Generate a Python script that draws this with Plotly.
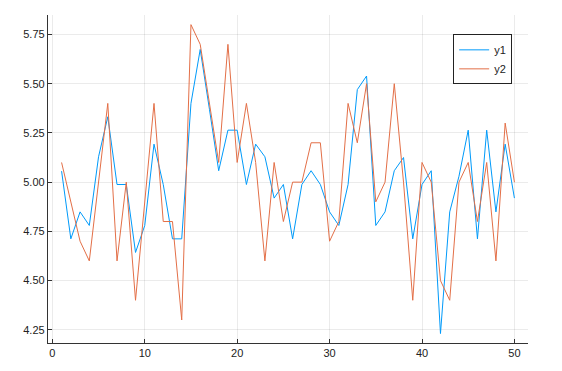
import plotly.graph_objects as go

x = list(range(1, 51))
y1 = [5.056, 4.712, 4.849, 4.78, 5.129, 5.332, 4.988, 4.988, 4.643, 4.78,
      5.193, 4.988, 4.712, 4.712, 5.40, 5.674, 5.37, 5.058, 5.264, 5.264,
      4.988, 5.193, 5.129, 4.919, 4.988, 4.712, 4.988, 5.058, 4.988, 4.849,
      4.78, 4.988, 5.47, 5.539, 4.78, 4.849, 5.058, 5.125, 4.712, 4.988,
      5.058, 4.231, 4.849, 5.03, 5.264, 4.712, 5.264, 4.849, 5.193, 4.919]
y2 = [5.1, 4.9, 4.7, 4.6, 5.0, 5.4, 4.6, 5.0, 4.4, 4.9,
      5.4, 4.8, 4.8, 4.3, 5.8, 5.7, 5.4, 5.1, 5.7, 5.1,
      5.4, 5.1, 4.6, 5.1, 4.8, 5.0, 5.0, 5.2, 5.2, 4.7,
      4.8, 5.4, 5.2, 5.5, 4.9, 5.0, 5.5, 5.0, 4.4, 5.1,
      5.0, 4.5, 4.4, 5.0, 5.1, 4.8, 5.1, 4.6, 5.3, 5.0]
names = ["y1", "y2"]
colors = ["#009AFA", "#E36F47"]
xticks = [0, 10, 20, 30, 40, 50]
yticks = [4.25, 4.50, 4.75, 5.00, 5.25, 5.50, 5.75]

fig = go.Figure()
for ys, nm, c in zip([y1, y2], names, colors):
    fig.add_trace(go.Scatter(x=x, y=ys, mode="lines", name=nm,
                             line=dict(color=c, width=1)))

font = dict(family="Liberation Sans, Arial, sans-serif", size=11, color="#222222")
axis_common = dict(showline=True, linecolor="#333333", linewidth=1.3,
                   ticks="inside", ticklen=4, tickcolor="#333333", tickwidth=1,
                   showgrid=True, gridcolor="rgba(0,0,0,0.08)", gridwidth=1,
                   zeroline=False, mirror=False, tickfont=font)
fig.update_xaxes(range=[-0.47, 51.47], tickvals=xticks,
                 ticktext=[str(v) for v in xticks], **axis_common)
fig.update_yaxes(range=[4.183, 5.849], tickvals=yticks,
                 ticktext=[f"{v:.2f}" for v in yticks], **axis_common)

fig.update_layout(
    width=562, height=371,
    margin=dict(l=48, r=34, t=15, b=28),
    paper_bgcolor="white", plot_bgcolor="white",
    font=font,
    showlegend=True,
    legend=dict(x=0.967, y=0.941, xanchor="right", yanchor="top",
                bgcolor="white", bordercolor="#222222", borderwidth=1,
                font=dict(family="Liberation Sans, Arial, sans-serif", size=11, color="#222222"),
                tracegroupgap=0, itemwidth=30),
)

fig.write_html("out.html")
